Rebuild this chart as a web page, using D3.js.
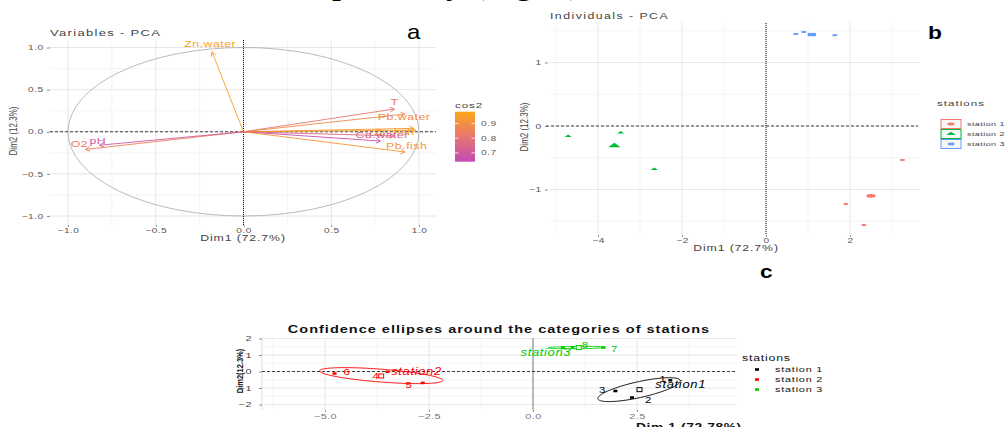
<!DOCTYPE html>
<html>
<head>
<meta charset="utf-8">
<script src="https://cdn.jsdelivr.net/npm/d3@7"></script>
<style>
body { margin: 0; background: #fff; }
</style>
</head>
<body>
<script>
// ---------- data : panel a (variables) ----------
var varNames = ["Zn.water", "T", "Pb.water", "Cd.fish", "Zn.fish", "Cu.water", "Cd.water", "Pb.fish", "O2", "pH"];
var varDim1 = [-0.18, 0.86, 0.92, 0.97, 0.98, 0.78, 0.86, 0.92, -0.90, -0.82];
var varDim2 = [0.95, 0.27, 0.21, 0.04, 0.02, -0.11, -0.05, -0.24, -0.21, -0.16];
var varCos2 = [0.96, 0.81, 0.88, 0.93, 0.95, 0.66, 0.74, 0.92, 0.85, 0.70];
// where the repelled labels ended up (data units), "" = no label shown
var varLabel = ["Zn.water", "T", "Pb.water", "", "Zn.fish", "", "Cd.water", "Pb.fish", "O2", "pH"];
var varLabDim1 = [-0.19, 0.86, 0.915, 0, 0.86, 0, 0.79, 0.93, -0.935, -0.83];
var varLabDim2 = [1.04, 0.35, 0.175, 0, 0.0, 0, -0.035, -0.165, -0.14, -0.105];
var cos2Ticks = [0.7, 0.8, 0.9];

// ---------- data : panel b (individuals) ----------
var stations = ["station 1", "station 2", "station 3"];
var indStation = [0, 0, 0, 1, 1, 1, 2, 2, 2];
var indDim1 = [3.25, 1.90, 2.33, -4.71, -3.46, -2.66, 0.71, 0.90, 1.64];
var indDim2 = [-0.535, -1.23, -1.56, -0.16, -0.105, -0.68, 1.45, 1.48, 1.43];
var meanDim1 = [2.50, -3.61, 1.09];
var meanDim2 = [-1.10, -0.31, 1.44];

// ---------- data : panel c (ellipses) ----------
var cStations = ["station1", "station2", "station3"];
var cLabels = ["1", "2", "3", "4", "5", "6", "7", "8", "9"];
var cStation = [0, 0, 0, 1, 1, 1, 2, 2, 2];
var cDim1 = [3.30, 2.38, 1.98, -3.50, -2.65, -4.77, 1.69, 0.95, 0.72];
var cDim2 = [-0.53, -1.58, -1.18, -0.02, -0.69, -0.12, 1.45, 1.47, 1.44];
var cLabDim1 = [3.12, 2.77, 1.66, -3.78, -2.99, -4.48, 1.95, 1.25, null];
var cLabDim2 = [-0.42, -1.70, -1.13, -0.28, -0.83, -0.04, 1.35, 1.60, null];
var cMeanDim1 = [2.56, -3.65, 1.10];
var cMeanDim2 = [-1.10, -0.27, 1.45];
var cMeanLabDim1 = [3.55, -2.80, 0.31];
var cMeanLabDim2 = [-0.80, 0.0, 1.17];
// ellipse: centre + two conjugate half axes (data units)
var ellCx = [2.55, -3.65, 1.05];
var ellCy = [-1.10, -0.25, 1.45];
var ellAx = [0.99, 1.48, 0.69];
var ellAy = [0.55, -0.30, 0.02];
var ellBx = [0.04, 0.05, 0.0];
var ellBy = [-0.47, 0.38, 0.07];

var FONT = "Liberation Sans, Arial, sans-serif";
var SX = 1.45; // the figure is stretched sideways

var svg = d3.select("body").append("svg")
  .attr("width", 1005).attr("height", 427)
  .style("background", "#fff");

function label(g, x, y, str, o) {
  o = o || {};
  var tr = "translate(" + x + "," + y + ") scale(" + (o.sx || SX) + ",1)";
  if (o.rotate) tr += " rotate(" + o.rotate + ")";
  var t = g.append("text")
    .attr("transform", tr)
    .attr("text-anchor", o.anchor || "start")
    .attr("dominant-baseline", o.baseline || "auto")
    .attr("font-family", o.family || FONT)
    .attr("font-size", o.size || 8)
    .attr("letter-spacing", o.ls === undefined ? 0.35 : o.ls)
    .attr("fill", o.color || "#4d4d4d")
    .text(str);
  if (o.weight) t.attr("font-weight", o.weight);
  if (o.style) t.attr("font-style", o.style);
  return t;
}

function styleAxis(g, size, color) {
  g.attr("font-family", FONT).attr("font-size", size);
  g.select(".domain").remove();
  g.selectAll(".tick line").attr("stroke", "#444").attr("stroke-width", 0.6);
  g.selectAll(".tick text").attr("fill", color).attr("letter-spacing", 0.3)
    .attr("transform", "scale(" + SX + ",1)");
}

function grid(g, xs, ys, vx, vy, x0, x1, y0, y1, isMajorX, isMajorY) {
  g.selectAll(".gx").data(vx).enter().append("line")
    .attr("x1", function(d) { return xs(d); }).attr("x2", function(d) { return xs(d); })
    .attr("y1", y0).attr("y2", y1)
    .attr("stroke", function(d) { return isMajorX(d) ? "#e3e3e3" : "#efefef"; })
    .attr("stroke-width", function(d) { return isMajorX(d) ? 0.9 : 0.6; });
  g.selectAll(".gy").data(vy).enter().append("line")
    .attr("y1", function(d) { return ys(d); }).attr("y2", function(d) { return ys(d); })
    .attr("x1", x0).attr("x2", x1)
    .attr("stroke", function(d) { return isMajorY(d) ? "#e3e3e3" : "#efefef"; })
    .attr("stroke-width", function(d) { return isMajorY(d) ? 0.9 : 0.6; });
}

function near(v, step) { return Math.abs(v / step - Math.round(v / step)) < 1e-6; }

// clipped caption line from the page above
label(svg, 272, -7, ", respectively (Fig. 4).", {sx: 1, ls: 0, size: 36, family: "Liberation Serif, Times New Roman, serif", color: "#000"});

// ================= panel a =================
drawVariables();
function drawVariables() {
  var g = svg.append("g");
  var x = d3.scaleLinear().domain([-1, 1]).range([68, 419]);
  var y = d3.scaleLinear().domain([-1, 1]).range([216, 47.5]);
  var vals = d3.range(-1, 1.01, 0.25);
  grid(g, x, y, vals, vals, 50, 436, 40, 225,
    function(d) { return near(d, 0.5); }, function(d) { return near(d, 0.5); });

  g.append("circle").attr("cx", x(0)).attr("cy", y(0))
    .attr("r", x(1) - x(0))
    .attr("transform", "translate(" + x(0) + "," + y(0) + ") scale(1," + ((y(0) - y(1)) / (x(1) - x(0))) + ") translate(" + (-x(0)) + "," + (-y(0)) + ")")
    .attr("fill", "none").attr("stroke", "#a8a8a8").attr("stroke-width", 0.8)
    .attr("vector-effect", "non-scaling-stroke");

  g.append("line").attr("x1", 50).attr("x2", 436).attr("y1", y(0)).attr("y2", y(0))
    .attr("stroke", "#111").attr("stroke-dasharray", "3,2").attr("stroke-width", 0.8);
  g.append("line").attr("x1", x(0)).attr("x2", x(0)).attr("y1", 40).attr("y2", 225)
    .attr("stroke", "#111").attr("stroke-dasharray", "1,1").attr("stroke-width", 1);

  var color = d3.scaleLinear().domain([0.64, 0.82, 0.98])
    .range(["#c24bb5", "#ea786a", "#fca51a"]);

  varNames.forEach(function(name, i) {
    var ex = x(varDim1[i]), ey = y(varDim2[i]), c = color(varCos2[i]);
    g.append("line").attr("x1", x(0)).attr("y1", y(0)).attr("x2", ex).attr("y2", ey)
      .attr("stroke", c).attr("stroke-width", 0.9);
    var a = Math.atan2(ey - y(0), ex - x(0)), L = 5;
    g.append("path")
      .attr("d", "M" + (ex - L * Math.cos(a - 0.5)) + "," + (ey - L * Math.sin(a - 0.5)) +
        "L" + ex + "," + ey + "L" + (ex - L * Math.cos(a + 0.5)) + "," + (ey - L * Math.sin(a + 0.5)))
      .attr("fill", "none").attr("stroke", c).attr("stroke-width", 0.9);
  });
  varNames.forEach(function(name, i) {
    if (!varLabel[i]) return;
    label(g, x(varLabDim1[i]), y(varLabDim2[i]), varLabel[i],
      {anchor: "middle", baseline: "central", size: 8.5, color: color(varCos2[i])});
  });

  var ax = g.append("g").attr("transform", "translate(50,0)")
    .call(d3.axisLeft(y).tickValues([-1, -0.5, 0, 0.5, 1]).tickFormat(d3.format(".1f")).tickSize(3).tickPadding(1.5));
  styleAxis(ax, 7, "#555");
  var bx = g.append("g").attr("transform", "translate(0,225)")
    .call(d3.axisBottom(x).tickValues([-1, -0.5, 0, 0.5, 1]).tickFormat(d3.format(".1f")).tickSize(2).tickPadding(1.5));
  styleAxis(bx, 7, "#555");

  label(g, 50, 36, "Variables - PCA", {size: 9, color: "#444", ls: 0.9});
  label(g, 243, 241, "Dim1 (72.7%)", {anchor: "middle", size: 8.5, color: "#444", ls: 0.6});
  label(g, 17, 131, "Dim2 (12.3%)", {anchor: "middle", size: 8, color: "#444", rotate: -90, sx: 1.3, ls: 0});
  label(g, 407, 39, "a", {size: 20, color: "#000", sx: 1.2, ls: 0});

  // cos2 colour bar
  var yb = d3.scaleLinear().domain([0.64, 0.98]).range([161.7, 111.7]);
  var grad = svg.append("defs").append("linearGradient").attr("id", "cosgrad")
    .attr("x1", 0).attr("x2", 0).attr("y1", 1).attr("y2", 0);
  [0.64, 0.73, 0.82, 0.9, 0.98].forEach(function(v) {
    grad.append("stop").attr("offset", (v - 0.64) / 0.34).attr("stop-color", color(v));
  });
  g.append("rect").attr("x", 455).attr("y", yb(0.98)).attr("width", 20).attr("height", yb(0.64) - yb(0.98))
    .attr("fill", "url(#cosgrad)");
  cos2Ticks.forEach(function(v) {
    g.append("line").attr("x1", 455).attr("x2", 458.5).attr("y1", yb(v)).attr("y2", yb(v)).attr("stroke", "#fff").attr("stroke-width", 0.8);
    g.append("line").attr("x1", 471.5).attr("x2", 475).attr("y1", yb(v)).attr("y2", yb(v)).attr("stroke", "#fff").attr("stroke-width", 0.8);
    label(g, 481, yb(v), d3.format(".1f")(v), {baseline: "central", size: 7, color: "#555"});
  });
  label(g, 455, 108, "cos2", {size: 8, color: "#444", ls: 0.6});
}

// ================= panel b =================
drawIndividuals();
function drawIndividuals() {
  var g = svg.append("g");
  var x = d3.scaleLinear().domain([-4, 2]).range([598, 850]);
  var y = d3.scaleLinear().domain([-1, 1]).range([189.5, 62.5]);
  grid(g, x, y, d3.range(-5, 3.01, 1), d3.range(-1.5, 1.51, 0.5), 550, 920, 22, 234,
    function(d) { return near(d, 2); }, function(d) { return near(d, 1); });

  g.append("line").attr("x1", 546).attr("x2", 918).attr("y1", y(0)).attr("y2", y(0))
    .attr("stroke", "#111").attr("stroke-dasharray", "3,2").attr("stroke-width", 0.8);
  g.append("line").attr("x1", x(0)).attr("x2", x(0)).attr("y1", 23).attr("y2", 235)
    .attr("stroke", "#111").attr("stroke-dasharray", "1,1").attr("stroke-width", 1);

  var col = ["#f8766d", "#00ba38", "#619cff"];
  var shapes = [d3.symbolCircle, d3.symbolTriangle, d3.symbolSquare];
  function mark(px, py, s, size) {
    g.append("path").attr("d", d3.symbol().type(shapes[s]).size(size)())
      .attr("transform", "translate(" + px + "," + py + ") scale(1.5,0.6)")
      .attr("fill", col[s]);
  }
  indDim1.forEach(function(d, i) { mark(x(d), y(indDim2[i]), indStation[i], 10); });
  meanDim1.forEach(function(d, i) { mark(x(d), y(meanDim2[i]), i, 30); });

  var ax = g.append("g").attr("transform", "translate(548,0)")
    .call(d3.axisLeft(y).tickValues([-1, 0, 1]).tickFormat(d3.format("d")).tickSize(3).tickPadding(1.5));
  styleAxis(ax, 7, "#555");
  var bx = g.append("g").attr("transform", "translate(0,235)")
    .call(d3.axisBottom(x).tickValues([-4, -2, 0, 2]).tickFormat(d3.format("d")).tickSize(2).tickPadding(1.5));
  styleAxis(bx, 7, "#555");

  label(g, 550, 18.5, "Individuals - PCA", {size: 8.5, color: "#444", ls: 1.0});
  label(g, 736, 251, "Dim1 (72.7%)", {anchor: "middle", size: 8.5, color: "#444", ls: 0.6});
  label(g, 528, 127, "Dim2 (12.3%)", {anchor: "middle", size: 8, color: "#444", rotate: -90, sx: 1.3, ls: 0});
  label(g, 928, 39, "b", {size: 19, color: "#000", sx: 1.2, weight: "bold", ls: 0});

  label(g, 937, 106, "stations", {size: 8, color: "#444", ls: 0.7});
  stations.forEach(function(s, i) {
    var cy = 124 + i * 10;
    g.append("rect").attr("x", 941).attr("y", cy - 4.5).attr("width", 20).attr("height", 9)
      .attr("fill", "#f7f7f7").attr("stroke", col[i]).attr("stroke-width", 1);
    mark(951, cy, i, 18);
    label(g, 967, cy, s, {baseline: "central", size: 6.2, color: "#444", ls: 0.3});
  });
  label(g, 760, 278, "c", {size: 19, color: "#000", sx: 1.2, weight: "bold", ls: 0});
}

// ================= panel c =================
drawEllipses();
function drawEllipses() {
  var g = svg.append("g");
  var x = d3.scaleLinear().domain([-5, 2.5]).range([325, 637]);
  var y = d3.scaleLinear().domain([-2, 2]).range([404.5, 338.5]);
  grid(g, x, y, d3.range(-6.25, 4.5, 1.25), d3.range(-2, 2.01, 0.5), 262, 737, 338.5, 410,
    function(d) { return near(d, 2.5); }, function(d) { return near(d, 1); });
  g.append("line").attr("x1", 262).attr("x2", 262).attr("y1", 338.5).attr("y2", 410)
    .attr("stroke", "#d5d5d5").attr("stroke-width", 0.8);

  g.append("line").attr("x1", 262).attr("x2", 737).attr("y1", y(0)).attr("y2", y(0))
    .attr("stroke", "#111").attr("stroke-dasharray", "3,2").attr("stroke-width", 0.8);
  g.append("line").attr("x1", x(0)).attr("x2", x(0)).attr("y1", 338.5).attr("y2", 410)
    .attr("stroke", "#111").attr("stroke-dasharray", "1,1").attr("stroke-width", 1);

  var col = ["#000000", "#ff0000", "#00cc00"];
  var line = d3.line().curve(d3.curveLinearClosed);
  cStations.forEach(function(s, k) {
    var pts = d3.range(0, 2 * Math.PI, Math.PI / 60).map(function(t) {
      return [x(ellCx[k] + ellAx[k] * Math.cos(t) + ellBx[k] * Math.sin(t)),
              y(ellCy[k] + ellAy[k] * Math.cos(t) + ellBy[k] * Math.sin(t))];
    });
    g.append("path").attr("d", line(pts)).attr("fill", "none")
      .attr("stroke", col[k]).attr("stroke-width", 0.9);
  });

  cDim1.forEach(function(d, i) {
    g.append("rect").attr("x", x(d) - 2).attr("y", y(cDim2[i]) - 1.3)
      .attr("width", 4).attr("height", 2.6).attr("fill", col[cStation[i]]);
    if (cLabDim1[i] !== null)
      label(g, x(cLabDim1[i]), y(cLabDim2[i]), cLabels[i],
        {anchor: "middle", baseline: "central", size: 9.5, color: col[cStation[i]], sx: 1.2, ls: 0});
  });
  cMeanDim1.forEach(function(d, k) {
    g.append("rect").attr("x", x(d) - 2.5).attr("y", y(cMeanDim2[k]) - 2)
      .attr("width", 5).attr("height", 4).attr("fill", "#fff")
      .attr("stroke", col[k]).attr("stroke-width", 1);
    label(g, x(cMeanLabDim1[k]), y(cMeanLabDim2[k]), cStations[k],
      {anchor: "middle", baseline: "central", size: 10, color: col[k], style: "italic", sx: 1.3, ls: 0.5});
  });

  var ax = g.append("g").attr("transform", "translate(262,0)")
    .call(d3.axisLeft(y).tickValues([-2, -1, 0, 1, 2]).tickFormat(d3.format("d")).tickSize(3).tickPadding(4));
  styleAxis(ax, 7.5, "#444");
  var bx = g.append("g").attr("transform", "translate(0,410)")
    .call(d3.axisBottom(x).tickValues([-5, -2.5, 0, 2.5]).tickFormat(d3.format(".1f")).tickSize(2).tickPadding(2));
  styleAxis(bx, 7.5, "#777");

  label(g, 499, 333, "Confidence ellipses around the categories of stations",
    {anchor: "middle", size: 10, color: "#111", weight: "bold", ls: 0.7});
  label(g, 636, 431, "Dim 1 (72.78%)", {size: 11, color: "#111", weight: "bold", sx: 1.25, ls: 0.5});
  label(g, 243, 371, "Dim2(12.3%)", {anchor: "middle", size: 7.5, color: "#111", weight: "bold", rotate: -90, sx: 1.2, ls: 0});

  label(g, 742, 361, "stations", {size: 9.5, color: "#111", sx: 1.3, ls: 0.6});
  cStations.forEach(function(s, k) {
    var cy = 369.5 + k * 10;
    g.append("rect").attr("x", 755).attr("y", cy - 1.3).attr("width", 4).attr("height", 2.6).attr("fill", col[k]);
    label(g, 775, cy, "station " + (k + 1), {baseline: "central", size: 8, color: "#111", sx: 1.35, ls: 0.6});
  });
}
</script>
</body>
</html>
